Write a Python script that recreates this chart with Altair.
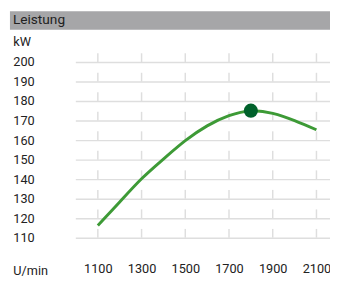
import altair as alt
import pandas as pd

# data
rpm = [1100, 1200, 1300, 1400, 1500, 1600, 1700, 1800, 1900, 2000, 2100]
power_kw = [116.3, 128.3, 140.2, 150.3, 159.7, 167.3, 172.5, 175.0, 173.7, 170.0, 165.3]
peak_rpm = [1800]
peak_kw = [175.1]
x_ticks = [1100, 1300, 1500, 1700, 1900, 2100]
y_ticks = [110, 120, 130, 140, 150, 160, 170, 180, 190, 200]
title_text = "Leistung"
y_unit = "kW"
x_unit = "U/min"

FONT = "Roboto"
GRID = "#dedede"
TXT = "#222222"

W, H = 261, 180
x_scale = alt.Scale(domain=[997, 2162], nice=False, zero=False)
y_scale = alt.Scale(domain=[110, 200], nice=False, zero=False)

curve_df = pd.DataFrame({"rpm": rpm, "kw": power_kw})
peak_df = pd.DataFrame({"rpm": peak_rpm, "kw": peak_kw})
dash_df = pd.DataFrame(
    [{"rpm": xv, "y0": yv, "y1": yv + 4.5} for xv in x_ticks for yv in y_ticks]
)
one = pd.DataFrame({"t": [title_text]})

x_axis = alt.Axis(
    values=x_ticks, format="d", grid=False, domain=False, ticks=False, tickSize=0,
    labelPadding=32, labelBaseline="middle", labelFont=FONT, labelFontSize=13,
    labelColor=TXT, labelOverlap=False, labelFlush=False,
    title=x_unit, titleFont=FONT, titleFontSize=13,
    titleFontWeight="normal", titleColor=TXT, titleX=-64, titleY=34,
    titleAlign="left", titleBaseline="middle",
)
y_axis = alt.Axis(
    values=y_ticks, format="d", grid=True, gridColor=GRID, gridWidth=1.5, domain=False,
    ticks=False, tickSize=0, labelAlign="left", labelPadding=64,
    labelBaseline="middle", labelFont=FONT, labelFontSize=13, labelColor=TXT,
    labelOverlap=False, labelFlush=False,
    title=y_unit, titleFont=FONT, titleFontSize=13, titleFontWeight="normal",
    titleColor=TXT, titleAngle=0, titleX=-64, titleY=-21, titleAlign="left",
    titleBaseline="middle",
)

X_rpm = alt.X("rpm:Q", scale=x_scale, axis=x_axis)

base_axes = alt.Chart(curve_df).mark_line(opacity=0).encode(
    x=X_rpm,
    y=alt.Y("kw:Q", scale=y_scale, axis=y_axis),
)

dashes = alt.Chart(dash_df).mark_rule(color=GRID, strokeWidth=1.5).encode(
    x=X_rpm,
    y=alt.Y("y0:Q", scale=y_scale, axis=y_axis),
    y2="y1:Q",
)

line = alt.Chart(curve_df).mark_line(
    color="#3d9a36", strokeWidth=3, interpolate="natural"
).encode(
    x=X_rpm,
    y=alt.Y("kw:Q", scale=y_scale, axis=y_axis),
)

peak = alt.Chart(peak_df).mark_point(
    filled=True, color="#00612b", opacity=1, size=210
).encode(
    x=X_rpm,
    y=alt.Y("kw:Q", scale=y_scale, axis=y_axis),
)

bar = alt.Chart(one).mark_rect(color="#a6a6a8").encode(
    x=alt.value(-67), x2=alt.value(W + 10), y=alt.value(-52), y2=alt.value(-33)
)
bar_text = alt.Chart(one).mark_text(
    align="left", baseline="middle", font=FONT, fontSize=14, color=TXT
).encode(x=alt.value(-64), y=alt.value(-43), text="t:N")

chart = alt.layer(base_axes, dashes, line, peak, bar, bar_text).properties(
    width=W, height=H,
    background="white",
    autosize=alt.AutoSizeParams(type="none"),
    padding={"left": 69, "top": 52, "right": 0, "bottom": 42},
).configure_view(stroke=None).configure_axis(labelOverlap=False)

chart.save("out.html", embed_options={"renderer": "svg", "actions": False})
